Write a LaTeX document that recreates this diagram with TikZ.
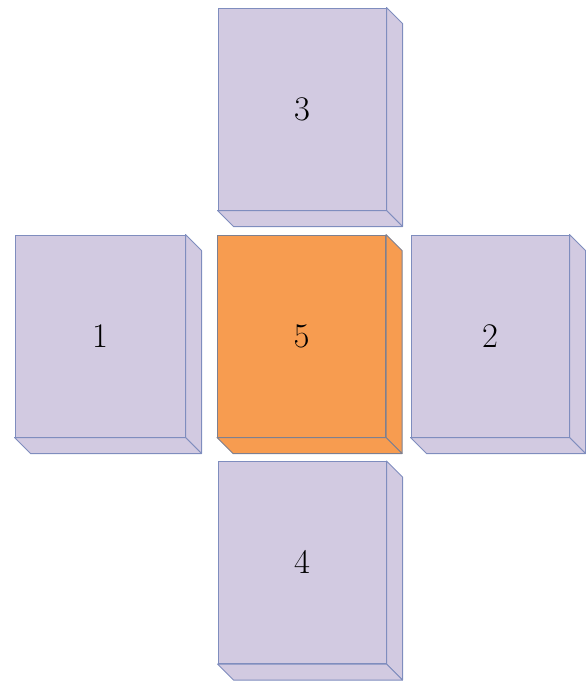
\documentclass[tikz,border=0pt]{standalone}
\usepackage{tikz}
\usetikzlibrary{calc}
\definecolor{cubeLilac}{HTML}{D2CAE1}
\definecolor{cubeEdge}{HTML}{7F8DBE}
\definecolor{cubeOrange}{HTML}{F79C50}
\definecolor{cubeOrangeEdge}{HTML}{7E8090}
\tikzset{
  cubeA/.style={rectangle, draw=cubeEdge, fill=cubeLilac, line width=0.5pt,
                minimum width=84pt, minimum height=101pt, inner sep=0pt,
                font=\LARGE},
  cubeB/.style={cubeA, draw=cubeOrangeEdge, fill=cubeOrange},
  sideA/.style={draw=cubeEdge, fill=cubeLilac, line width=0.5pt, line join=round},
  sideB/.style={sideA, draw=cubeOrangeEdge, fill=cubeOrange},
}
\begin{document}
\begin{tikzpicture}[x=0.5pt, y=-0.5pt]
    \useasboundingbox (0,0) rectangle (585,681);
    \node[cubeA] (c3) at (302,109) {$3$};
    \node[cubeB] (c5) at (301.5,336) {$5$};
    \node[cubeA] (c4) at (302,562.5) {$4$};
    \node[cubeA, minimum width=85pt] (c1) at (100,336) {$1$};
    \node[cubeA, minimum width=79pt] (c2) at (490,336) {$2$};
    \foreach \c/\s in {c3/sideA, c5/sideB, c4/sideA, c1/sideA, c2/sideA} {
      \draw[\s] (\c.north east) -- ++(16,16) -- ($(\c.south east)+(16,16)$)
        -- (\c.south east) -- cycle;
      \draw[\s] (\c.south west) -- ++(16,16) -- ($(\c.south east)+(16,16)$)
        -- (\c.south east) -- cycle;
    }
  \end{tikzpicture}
\end{document}
